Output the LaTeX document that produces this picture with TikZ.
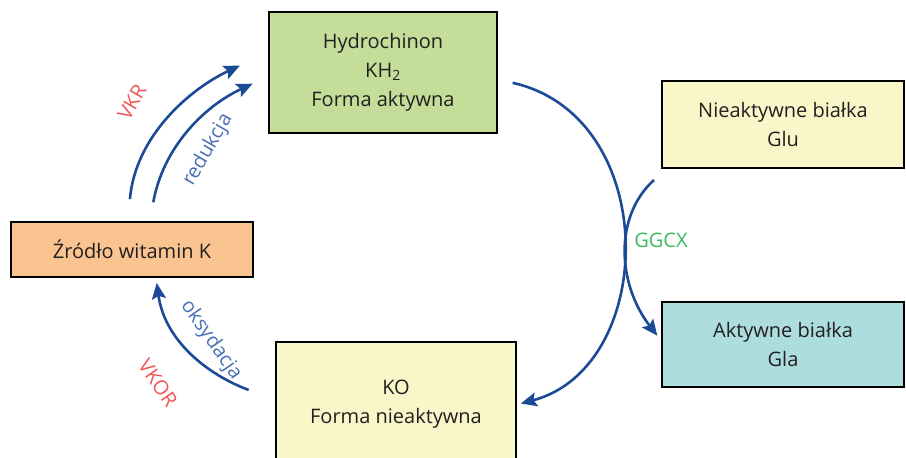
\documentclass[tikz,border=0pt]{standalone}
\usepackage{fontspec}
\setmainfont{Open Sans}
\usetikzlibrary{arrows.meta}
\definecolor{boxgreen}{RGB}{196,222,154}
\definecolor{boxyellow}{RGB}{249,247,201}
\definecolor{boxorange}{RGB}{250,196,144}
\definecolor{boxteal}{RGB}{174,221,223}
\definecolor{arcblue}{RGB}{27,74,150}
\definecolor{lblblue}{RGB}{72,110,180}
\definecolor{lblred}{RGB}{240,85,85}
\definecolor{lblgreen}{RGB}{60,184,96}
\definecolor{txtgray}{RGB}{35,31,32}
\begin{document}
\begin{tikzpicture}[x=1pt,y=1pt,
  box/.style={draw=black, line width=2pt, text=txtgray, align=center, inner sep=0pt,
    font=\fontsize{20}{29}\selectfont},
  arr/.style={draw=arcblue, line width=2.6pt, -{Stealth[length=16pt,width=14pt,inset=3pt]}},
  lbl/.style={font=\fontsize{20}{22}\selectfont}]
\useasboundingbox (0,0) rectangle (906,458);
\node[box, fill=boxgreen, minimum width=228pt, minimum height=121pt] (hyd) at (383,385.5)
  {Hydrochinon\\KH\textsubscript{2}\\Forma aktywna};
\node[box, fill=boxyellow, minimum width=242pt, minimum height=87pt] (nieakt) at (783,333.5)
  {Nieaktywne białka\\Glu};
\node[box, fill=boxorange, minimum width=242pt, minimum height=55pt] (zrodlo) at (132,208.5)
  {Źródło witamin K};
\node[box, fill=boxteal, minimum width=242pt, minimum height=85pt] (akt) at (783,113.5)
  {Aktywne białka\\Gla};
\node[box, fill=boxyellow, minimum width=240pt, minimum height=125pt] (ko) at (396,53.5)
  {KO\\Forma nieaktywna};
% redukcja
\draw[arr, shorten <=22pt, shorten >=31pt] ([xshift=-4pt]zrodlo.north) to[out=85,in=205] ([yshift=20pt]hyd.west);
\draw[arr, shorten <=19pt, shorten >=17pt] ([xshift=18pt]zrodlo.north) to[out=80,in=205] ([yshift=-4pt]hyd.west);
\node[lbl, text=lblred, rotate=60] (vkr) at (132,356) {VKR};
\node[lbl, text=lblblue, rotate=60] (red) at (208,308) {redukcja};
% oksydacja
\draw[arr, shorten <=28pt, shorten >=5pt] ([yshift=5pt]ko.west) to[out=160,in=-82] ([xshift=24pt]zrodlo.south);
\node[lbl, text=lblblue, rotate=-55] (oks) at (211,118) {oksydacja};
\node[lbl, text=lblred, rotate=-55] (vkor) at (158,75) {VKOR};
% GGCX
\draw[arr, shorten <=15pt, shorten >=4pt] ([yshift=-7pt]hyd.east) .. controls +(164,-37) and +(141,37) .. (ko.east);
\draw[arr, shorten >=6pt] ([shift={(-7pt,-11pt)}]nieakt.south west) .. controls +(-40,-36) and +(-44,57) .. ([yshift=4pt]akt.west);
\node[lbl, text=lblgreen] (ggcx) at (661,218) {GGCX};
\end{tikzpicture}
\end{document}
